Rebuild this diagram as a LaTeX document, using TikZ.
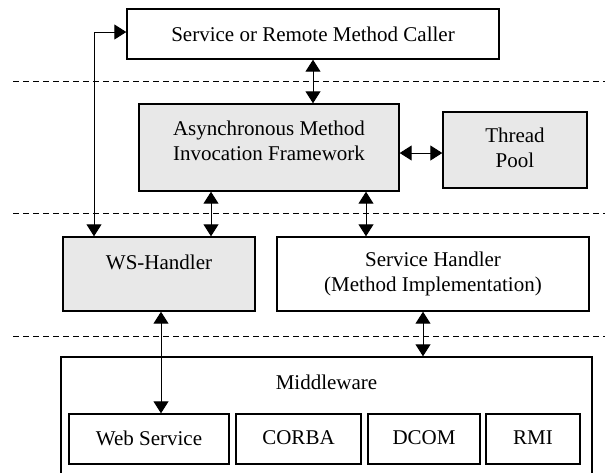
\documentclass[tikz,border=0pt]{standalone}
\usepackage{fontspec}
\setmainfont{Liberation Serif}
\usetikzlibrary{arrows.meta,calc}
\begin{document}
\begin{tikzpicture}[x=1pt,y=-1pt,
  box/.style={draw=black,line width=1.4pt,fill=white,inner sep=0pt},
  graybox/.style={box,fill=black!9},
  txt/.style={font=\fontsize{21}{24.5}\selectfont,align=center,inner sep=0pt},
  conn/.style={line width=1pt,{Triangle[width=15pt,length=12pt]}-{Triangle[width=15pt,length=12pt]}},
  sep/.style={line width=0.8pt,dash pattern=on 6pt off 4pt}
]
\useasboundingbox (0,0) rectangle (605,472);
\clip (0,0) rectangle (605,472);
% separators
\coordinate (s1a) at (13,81);  \coordinate (s1b) at (605,81);
\coordinate (s2a) at (13,213); \coordinate (s2b) at (605,213);
\coordinate (s3a) at (13,336); \coordinate (s3b) at (605,336);
\draw[sep] (s1a) -- (s1b);
\draw[sep] (s2a) -- (s2b);
\draw[sep] (s3a) -- (s3b);
% boxes
\node[box,minimum width=372pt,minimum height=50pt] (caller) at (313,34) {};
\node[txt] (callert) at (313,34) {Service or Remote Method Caller};
\node[graybox,minimum width=260pt,minimum height=87pt] (async) at (269,147.5) {};
\node[txt] (asynct) at (269,141) {Asynchronous Method\\Invocation Framework};
\node[graybox,minimum width=144pt,minimum height=76pt] (pool) at (515,150) {};
\node[txt] (poolt) at (515,148) {Thread\\Pool};
\node[graybox,minimum width=192pt,minimum height=74pt] (ws) at (159,274) {};
\node[txt] (wst) at (159,262) {WS-Handler};
\node[box,minimum width=312pt,minimum height=74pt] (sh) at (433,274) {};
\node[txt] (sht) at (433,274) {Service Handler\\(Method Implementation)};
\node[box,minimum width=531pt,minimum height=126pt] (mw) at (326.5,420) {};
\node[txt] (mwt) at (326.5,382) {Middleware};
\node[box,minimum width=160pt,minimum height=50pt] (websvc) at (149,439) {};
\node[txt] at (149,438) (websvct) {Web Service};
\node[box,minimum width=125pt,minimum height=50pt] (corba) at (298.5,439) {};
\node[txt] at (298.5,438) (corbat) {CORBA};
\node[box,minimum width=112pt,minimum height=50pt] (dcom) at (424,439) {};
\node[txt] at (424,438) (dcomt) {DCOM};
\node[box,minimum width=94pt,minimum height=50pt] (rmi) at (533,439) {};
\node[txt] at (533,438) (rmit) {RMI};
% connector guides
\coordinate (xl) at (94,0);
\coordinate (xa) at (211,0);
\coordinate (xb) at (366,0);
\coordinate (xw) at (161,0);
\coordinate (xs) at (423,0);
\coordinate (yp) at (0,153);
\coordinate (yc) at (0,32);
% connectors
\draw[conn] (caller.south) -- (caller.south |- async.north);
\draw[conn] (async.east |- yp) -- (pool.west |- yp);
\draw[conn] (async.south -| xa) -- (ws.north -| xa);
\draw[conn] (async.south -| xb) -- (sh.north -| xb);
\draw[conn] (ws.north -| xl) -- (xl |- yc) -- (caller.west |- yc);
\draw[conn] (ws.south -| xw) -- (websvc.north -| xw);
\draw[conn] (sh.south -| xs) -- (mw.north -| xs);
\end{tikzpicture}
\end{document}
